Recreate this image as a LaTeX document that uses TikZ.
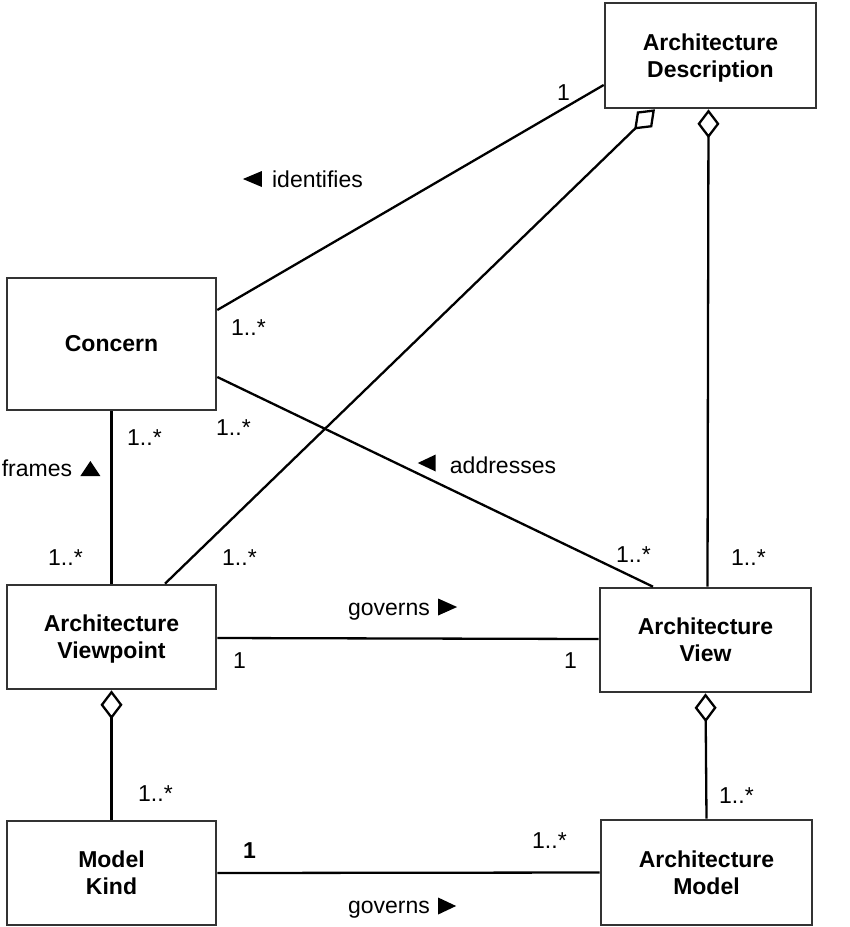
\documentclass[tikz,border=0pt]{standalone}
\usepackage{fontspec}
\setmainfont{Liberation Sans}
\usetikzlibrary{arrows.meta}
\definecolor{boxline}{HTML}{333333}
% class name, set a little below the geometric centre of its box
\newcommand\classname[1]{\raisebox{-3pt}[\height][\depth]{\begin{tabular}{@{}c@{}}#1\end{tabular}}}
\begin{document}
\begin{tikzpicture}[x=1pt,y=-1pt,
  classbox/.style={draw=boxline, line width=2.6pt, fill=white, align=center,
    inner sep=0pt, font=\bfseries\fontsize{23}{27}\selectfont},
  assoc/.style={line width=2.3pt, black},
  agg/.style={assoc, {Diamond[open, length=29pt, width=22pt, line width=2.3pt]}-},
  mult/.style={anchor=base west, inner sep=0pt, font=\fontsize{23}{27}\selectfont},
  rolename/.style={anchor=base, inner sep=0pt, font=\fontsize{23}{27}\selectfont}]
\useasboundingbox (0,0) rectangle (850,927);

% classes
\node[classbox, minimum width=211pt, minimum height=105pt] (AD)      at (710.5,55.5) {\classname{Architecture\\Description}};
\node[classbox, minimum width=209pt, minimum height=132pt] (Concern) at (111.5,344)  {Concern};
\node[classbox, minimum width=209pt, minimum height=104pt] (VP)      at (111.5,637)  {\classname{Architecture\\Viewpoint}};
\node[classbox, minimum width=211pt, minimum height=104pt] (View)    at (705.5,640)  {\classname{Architecture\\View}};
\node[classbox, minimum width=209pt, minimum height=104pt] (MK)      at (111.5,873)  {\classname{Model\\Kind}};
\node[classbox, minimum width=211pt, minimum height=105pt] (AM)      at (706.5,872.5){\classname{Architecture\\Model}};

% associations
\draw[assoc] ([yshift=34pt]Concern.east) -- ([yshift=-29.5pt]AD.west);
\draw[agg] ([xshift=-55.5pt]AD.south) -- ([xshift=53.5pt]VP.north);
\draw[agg] ([xshift=-2pt]AD.south) -- ([xshift=2pt]View.north);
\draw[assoc] (Concern.south) -- (VP.north);
\draw[assoc] ([yshift=-33pt]Concern.east) -- ([xshift=-52.5pt]View.north);
\draw[assoc] ([yshift=-1pt]VP.east) -- ([yshift=1pt]View.west);
\draw[agg] (VP.south) -- (MK.north);
\draw[agg] (View.south) -- (AM.north);
\draw[assoc] (MK.east) -- (AM.west);

% association names with reading-direction triangles
\node[rolename] (lid) at (317.5,187) {identifies};
\fill ([xshift=-10pt,yshift=8pt]lid.base west) ++(0pt,8pt) -- ++(-19pt,-8pt) -- ++(19pt,-8pt) -- cycle;
\node[rolename] (ladd) at (503,473) {addresses};
\fill ([xshift=-14pt,yshift=10pt]ladd.base west) ++(0pt,8.5pt) -- ++(-18pt,-8.5pt) -- ++(18pt,-8.5pt) -- cycle;
\node[rolename] (lfr) at (37,476) {frames};
\fill ([xshift=8pt]lfr.base east) -- ++(20pt,0pt) -- ++(-10pt,15pt) -- cycle;
\node[rolename] (lgov) at (389,615) {governs};
\fill ([xshift=8pt,yshift=8pt]lgov.base east) ++(0pt,8.5pt) -- ++(19pt,-8.5pt) -- ++(-19pt,-8.5pt) -- cycle;
\node[rolename] (lgov2) at (389,913) {governs};
\fill ([xshift=8pt,yshift=7pt]lgov2.base east) ++(0pt,8.5pt) -- ++(18pt,-8.5pt) -- ++(-18pt,-8.5pt) -- cycle;

% multiplicities
\node[mult] (m1)  at (557,100) {1};
\node[mult] (m2)  at (231,335) {1..*};
\node[mult] (m3)  at (216,435) {1..*};
\node[mult] (m4)  at (127,445) {1..*};
\node[mult] (m5)  at (48,565)  {1..*};
\node[mult] (m6)  at (222,565) {1..*};
\node[mult] (m7)  at (616,562) {1..*};
\node[mult] (m8)  at (731,565) {1..*};
\node[mult] (m9)  at (233,668) {1};
\node[mult] (m10) at (564,668) {1};
\node[mult] (m11) at (138,801) {1..*};
\node[mult] (m12) at (719,803) {1..*};
\node[mult, font=\bfseries\fontsize{23}{27}\selectfont] (m13) at (243,858) {1};
\node[mult] (m14) at (532,848) {1..*};
\end{tikzpicture}
\end{document}
